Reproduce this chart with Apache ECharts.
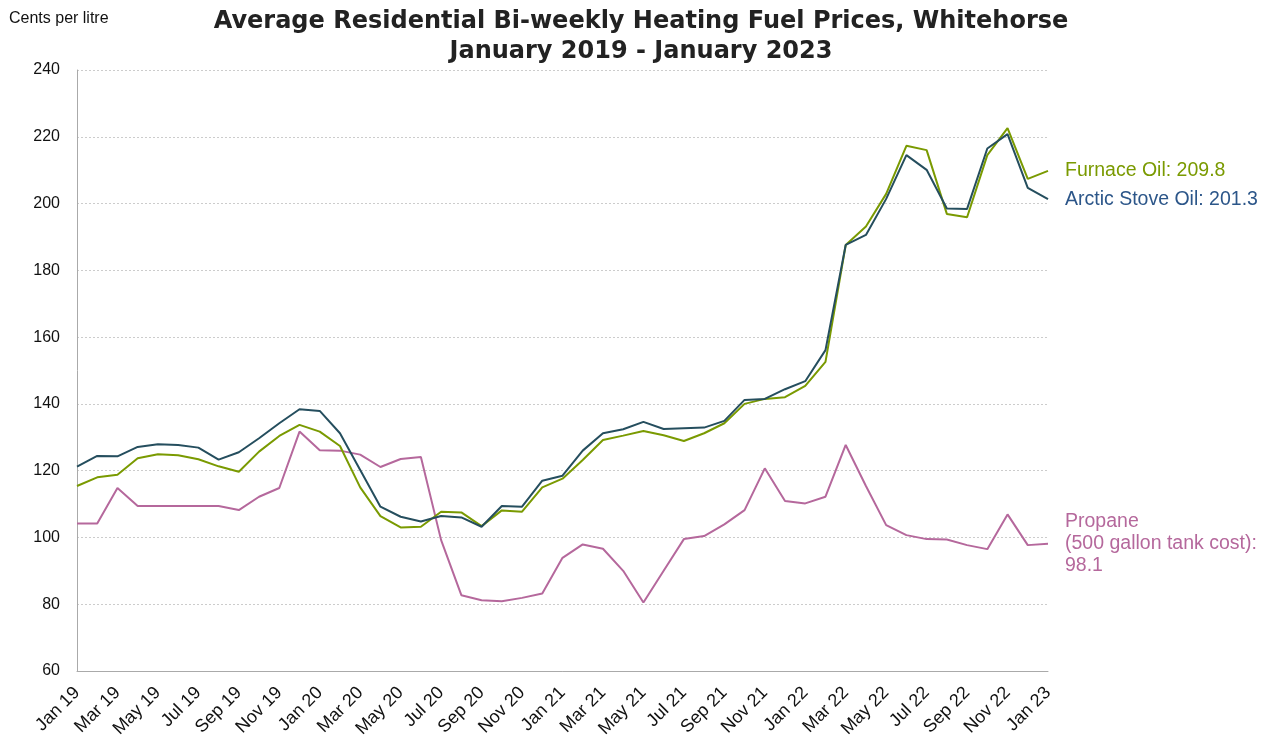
<!DOCTYPE html>
<html>
<head>
<meta charset="utf-8">
<script src="https://cdn.jsdelivr.net/npm/echarts@6/dist/echarts.min.js"></script>
<style>html,body{margin:0;padding:0;background:#fff}#c{width:1270px;height:738px}</style>
</head>
<body>
<div id="c"></div>
<script>
const months = ['Jan','Feb','Mar','Apr','May','Jun','Jul','Aug','Sep','Oct','Nov','Dec'];
const categories = [];
for (let y = 19; y <= 23; y++) {
  for (let m = 0; m < 12; m++) {
    if (y === 23 && m > 0) break;
    categories.push(months[m] + ' ' + y);
  }
}
const furnaceOil = [
  115.4, 118.0, 118.8, 123.7, 124.9, 124.6, 123.4, 121.3, 119.7, 125.7, 130.4, 133.7,
  131.7, 127.4, 115.0, 106.4, 103.0, 103.2, 107.7, 107.5, 103.4, 108.1, 107.7, 115.0,
  117.6, 123.2, 129.2, 130.5, 131.9, 130.6, 128.9, 131.2, 134.2, 140.0, 141.5, 142.0,
  145.4, 152.6, 187.6, 193.1, 202.9, 217.3, 216.0, 196.9, 195.9, 214.5, 222.6, 207.4,
  209.8
];
const arcticStoveOil = [
  121.2, 124.4, 124.3, 127.1, 127.9, 127.7, 126.9, 123.3, 125.5, 129.7, 134.2, 138.4,
  137.9, 131.2, 120.2, 109.2, 106.2, 104.8, 106.4, 106.0, 103.2, 109.4, 109.2, 117.0,
  118.5, 126.0, 131.2, 132.4, 134.6, 132.5, 132.7, 132.9, 134.9, 141.2, 141.5, 144.4,
  146.8, 156.1, 187.6, 190.6, 201.4, 214.5, 210.1, 198.5, 198.4, 216.5, 220.8, 204.7,
  201.3
];
const propane = [
  104.2, 104.2, 114.8, 109.4, 109.4, 109.4, 109.4, 109.4, 108.2, 112.2, 114.8, 131.7,
  126.1, 126.0, 124.8, 121.1, 123.5, 124.1, 99.2, 82.7, 81.2, 80.9, 81.9, 83.2,
  93.9, 97.9, 96.6, 90.0, 80.5, 90.0, 99.5, 100.4, 103.9, 108.2, 120.7, 110.9,
  110.2, 112.2, 127.7, 115.4, 103.7, 100.7, 99.5, 99.4, 97.7, 96.5, 106.9, 97.7,
  98.1
];
const yTicks = { min: 60, max: 240, interval: 20 };

const colors = { furnace: '#7a9a01', arctic: '#254e5e', arcticText: '#2c5689', propane: '#b5689c' };
const FONT = 'Liberation Sans, Arial, sans-serif';
const chart = echarts.init(document.getElementById('c'));
function endLab(color, fmt) {
  return { show: true, distance: 17, color: color, fontFamily: FONT, fontSize: 19.5, lineHeight: 22, formatter: fmt, align: 'left' };
}
chart.setOption({
  animation: false,
  title: [{
    text: 'Average Residential Bi-weekly Heating Fuel Prices, Whitehorse\nJanuary 2019 - January 2023',
    left: 641, top: 7, padding: 0, textAlign: 'center',
    textStyle: { fontFamily: 'DejaVu Sans', fontWeight: 'bold', fontSize: 24, lineHeight: 30, color: '#222' }
  }, {
    text: 'Cents per litre', left: 9, top: 11, padding: 0,
    textStyle: { fontFamily: FONT, fontWeight: 'normal', fontSize: 16, color: '#111' }
  }],
  grid: { left: 77, right: 222, top: 70, bottom: 67, containLabel: false, outerBoundsMode: 'none' },
  xAxis: {
    type: 'category', data: categories, boundaryGap: false,
    axisLine: { lineStyle: { color: '#aaa', width: 1 } },
    axisTick: { show: false },
    axisLabel: { interval: 1, rotate: 45, color: '#111', fontFamily: FONT, fontSize: 18, margin: 19 },
    splitLine: { show: false }
  },
  yAxis: {
    type: 'value', min: yTicks.min, max: yTicks.max, interval: yTicks.interval,
    axisLine: { show: true, lineStyle: { color: '#aaa', width: 1 } },
    axisTick: { show: false },
    axisLabel: { color: '#111', fontFamily: FONT, fontSize: 16, margin: 17 },
    splitLine: { lineStyle: { color: '#ccc', type: [2, 2], width: 1 } }
  },
  series: [
    { name: 'Propane', type: 'line', data: propane, symbol: 'none', lineStyle: { color: colors.propane, width: 2 }, itemStyle: { color: colors.propane },
      endLabel: endLab(colors.propane, p => 'Propane\n(500 gallon tank cost):\n' + p.value.toFixed(1)) },
    { name: 'Furnace Oil', type: 'line', data: furnaceOil, symbol: 'none', lineStyle: { color: colors.furnace, width: 2 }, itemStyle: { color: colors.furnace },
      endLabel: endLab(colors.furnace, p => 'Furnace Oil: ' + p.value.toFixed(1)) },
    { name: 'Arctic Stove Oil', type: 'line', data: arcticStoveOil, symbol: 'none', lineStyle: { color: colors.arctic, width: 2 }, itemStyle: { color: colors.arctic },
      endLabel: endLab(colors.arcticText, p => 'Arctic Stove Oil: ' + p.value.toFixed(1)) }
  ]
});
</script>
</body>
</html>
